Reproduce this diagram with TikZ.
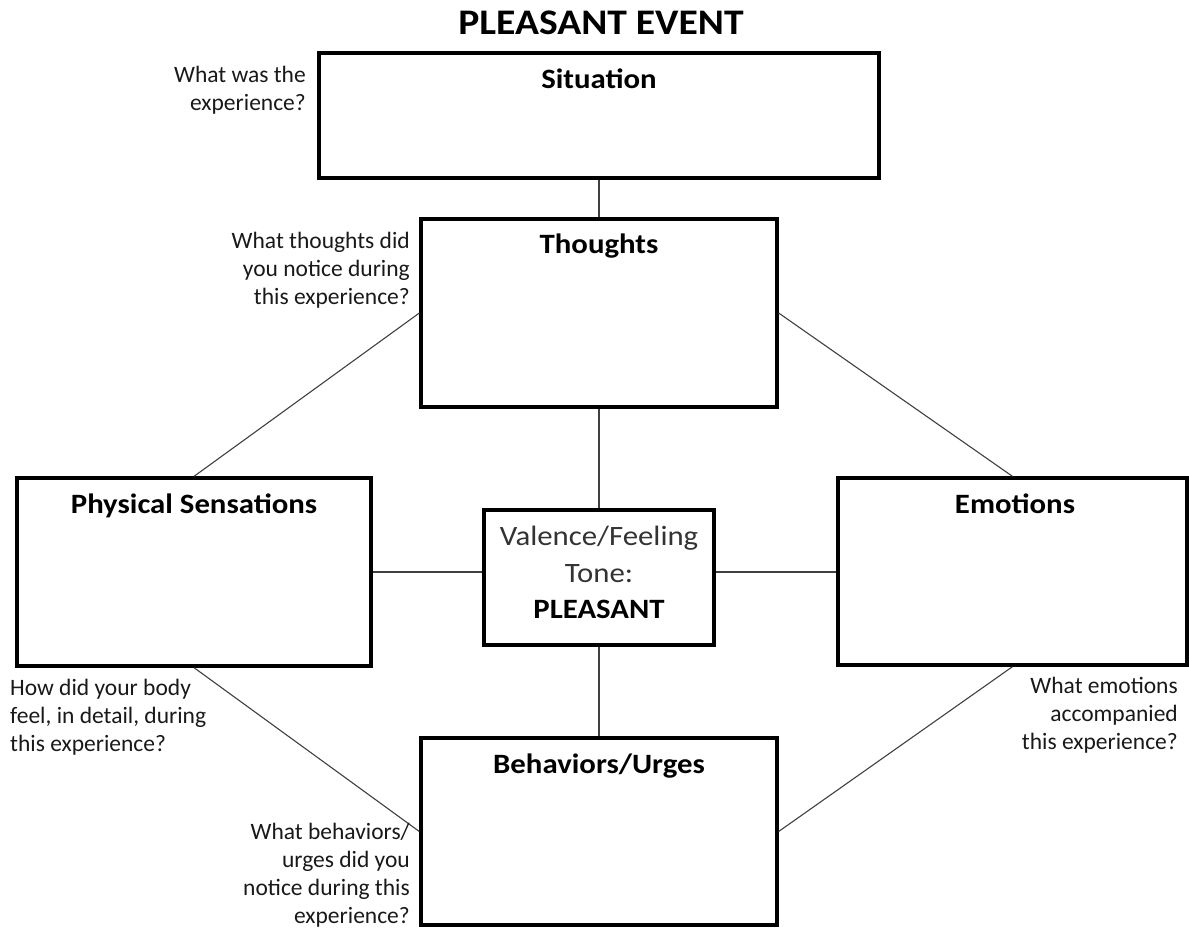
\documentclass[tikz,border=0pt]{standalone}
\usepackage{fontspec}
\setmainfont{Carlito}
\newcommand\hstr[1]{\scalebox{1.1}[1]{#1}}
\tikzset{
  box/.style={draw=black, line width=3.3pt, inner sep=0pt, fill=white},
  conn/.style={draw=black!75, line width=1.1pt},
  boxtitle/.style={anchor=base, inner sep=0pt, font=\fontsize{28}{34}\selectfont\bfseries},
  side/.style={inner sep=0pt, font=\fontsize{23.5}{28}\selectfont, text=black!90},
}
\begin{document}
\begin{tikzpicture}[x=1pt,y=-1pt]
\useasboundingbox (0,0) rectangle (1189,932);
% title
\node[anchor=base, inner sep=0pt, font=\fontsize{36}{40}\selectfont\bfseries] (title) at (601,34) {\hstr{PLEASANT EVENT}};
% boxes
\node[box, minimum width=560pt, minimum height=125pt] (si) at (599,115.5) {};
\node[box, minimum width=356pt, minimum height=188pt] (th) at (599,313) {};
\node[box, minimum width=354pt, minimum height=188pt] (ph) at (194,572) {};
\node[box, minimum width=349pt, minimum height=187pt] (em) at (1012.5,571.5) {};
\node[box, minimum width=356pt, minimum height=187pt] (bh) at (599,831.5) {};
\node[box, minimum width=230pt, minimum height=135pt] (va) at (599,577.5) {};
% box titles
\node[boxtitle] (siT) at (599,88) {\hstr{Situation}};
\node[boxtitle] (thT) at (599,253) {\hstr{Thoughts}};
\node[boxtitle] (phT) at (194,513) {\hstr{Physical Sensations}};
\node[boxtitle] (emT) at (1015,513) {\hstr{Emotions}};
\node[boxtitle] (bhT) at (599,773) {\hstr{Behaviors/Urges}};
% valence text
\node[anchor=base, inner sep=0pt, font=\fontsize{28}{34}\selectfont, text=black!80] (vaT1) at (599,545) {\hstr{Valence/Feeling}};
\node[anchor=base, inner sep=0pt, font=\fontsize{28}{34}\selectfont, text=black!80] (vaT2) at (599,582) {\hstr{Tone:}};
\node[anchor=base, inner sep=0pt, font=\fontsize{28}{34}\selectfont\bfseries] (vaT3) at (599,618) {\hstr{PLEASANT}};
% connectors
\draw[conn] (si.south) -- (th.north);
\draw[conn] (th.south) -- (va.north);
\draw[conn] (va.south) -- (bh.north);
\draw[conn] (ph.east) -- (ph.east -| va.west);
\draw[conn] (ph.east -| va.east) -- (ph.east -| em.west);
\draw[conn] (th.west) -- (ph.north);
\draw[conn] (th.east) -- (em.north);
\draw[conn] (ph.south) -- (bh.west);
\draw[conn] (em.south) -- (bh.east);
% side labels (base anchor = last line)
\node[side, anchor=base east, align=right] (l1) at (306,110) {What was the\\experience?};
\node[side, anchor=base east, align=right] (l2) at (410,304) {What thoughts did\\you notice during\\this experience?};
\node[side, anchor=base west, align=left] (l3) at (10,751) {How did your body\\feel, in detail, during\\this experience?};
\node[side, anchor=base east, align=right] (l4) at (1178,749) {What emotions\\accompanied\\this experience?};
\node[side, anchor=base east, align=right] (l5) at (410,923) {What behaviors/\\urges did you\\notice during this\\experience?};
\end{tikzpicture}
\end{document}
